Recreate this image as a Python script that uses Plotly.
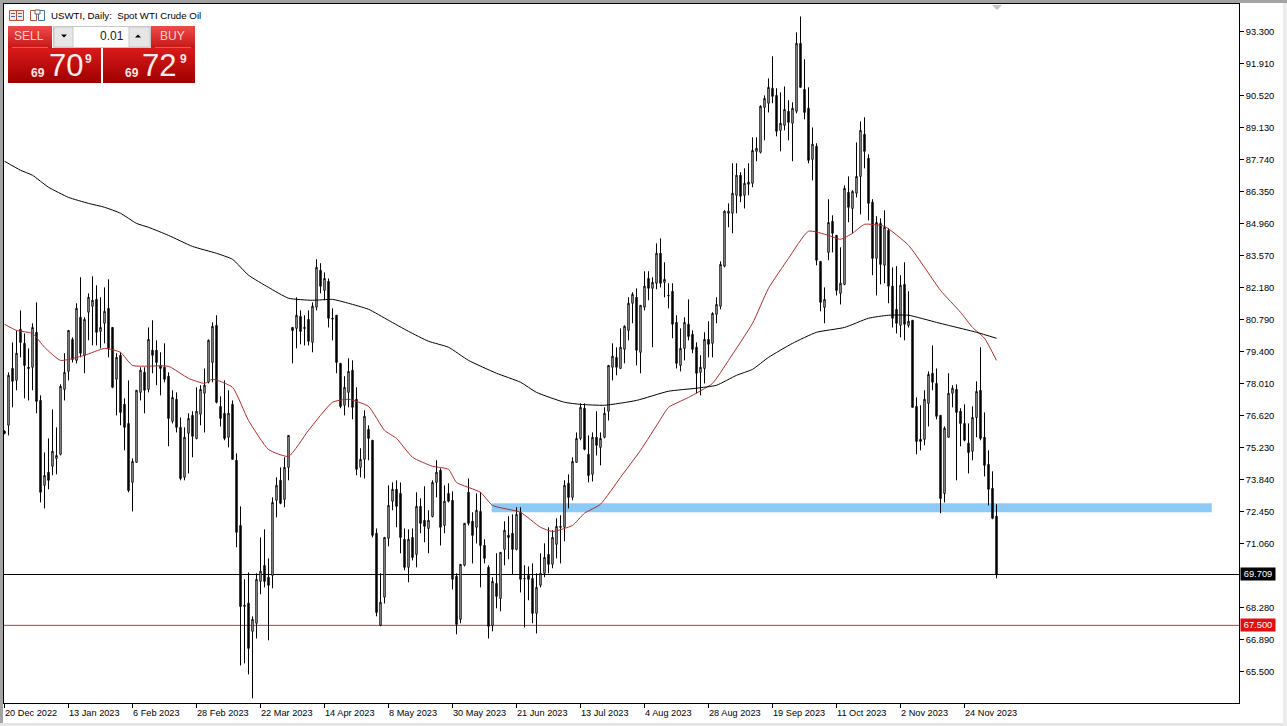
import plotly.graph_objects as go

bars = list(range(249))

highs = [75.97,78.49,79.79,80.31,81.18,80.18,79.53,80.62,81.53,77.49,75.01,75.62,76.88,76.10,77.97,79.32,80.31,80.01,81.49,82.62,80.88,81.92,82.66,82.27,81.75,82.18,82.53,80.44,79.32,79.36,
77.36,78.14,74.75,77.71,78.71,78.71,80.44,80.75,79.88,79.36,79.75,78.49,77.71,77.62,76.53,76.10,76.71,76.80,77.84,77.93,78.66,79.92,80.66,80.97,77.45,78.14,77.71,77.27,74.97,72.67,
69.50,69.80,67.89,69.76,71.32,71.67,70.41,73.06,73.93,74.36,74.80,75.75,80.44,81.75,81.18,80.97,81.18,81.53,83.40,83.23,82.83,82.57,81.27,80.97,78.88,78.32,79.10,79.01,77.84,75.19,
76.84,76.19,75.54,71.71,69.76,71.32,73.58,73.71,73.80,73.71,71.71,71.67,71.71,73.28,73.02,73.54,72.50,73.80,74.67,74.32,73.58,73.67,73.32,69.76,70.15,71.93,73.88,72.41,73.23,73.28,
71.24,70.11,69.59,70.63,70.67,72.02,72.24,72.32,72.63,72.63,70.11,70.06,70.19,69.76,70.63,71.06,71.76,71.63,72.15,72.28,73.80,74.06,74.80,75.88,77.14,77.14,75.75,75.88,76.80,75.88,
76.97,78.79,79.75,79.58,80.40,80.53,81.75,81.97,82.14,81.40,82.88,82.88,82.62,84.09,84.31,83.27,82.36,82.36,80.97,80.40,80.88,81.66,80.31,79.79,79.23,80.23,80.71,81.10,81.75,83.31,
85.53,85.83,87.57,87.57,87.18,87.35,87.57,88.70,88.70,90.09,90.52,91.26,92.22,90.83,90.65,90.91,90.31,90.22,93.26,93.95,92.09,90.87,89.13,88.44,83.31,82.18,86.01,85.31,84.44,83.92,
86.61,87.00,86.40,88.48,89.39,89.57,87.96,86.01,85.27,85.18,85.53,84.75,83.05,83.10,82.71,83.27,82.01,80.75,77.40,77.06,77.71,78.53,79.66,78.66,76.62,76.14,78.45,77.93,77.97,76.93,
77.10,76.27,77.01,78.10,79.58,76.75,75.10,74.19,72.76]

lows = [75.80,75.75,76.97,77.71,79.14,77.36,77.27,77.71,76.71,72.84,72.58,73.41,74.02,74.06,74.88,77.27,78.14,78.92,78.88,79.14,78.45,79.88,79.66,79.66,79.53,79.75,79.14,77.80,76.62,76.19,
75.10,73.28,72.45,74.58,77.27,76.71,77.62,78.45,77.93,77.49,78.06,75.28,76.27,75.88,73.80,73.80,74.10,74.80,75.58,76.19,75.88,78.01,78.06,77.14,76.14,75.54,75.23,74.71,70.89,65.76,
65.85,65.37,64.33,66.93,68.85,69.15,66.85,69.11,72.19,72.76,72.63,73.80,78.88,79.53,79.71,79.66,79.66,79.36,81.18,81.92,81.62,80.44,79.88,78.45,76.93,76.62,76.97,76.45,74.02,73.93,
73.88,74.67,71.32,67.89,67.46,68.45,70.93,72.50,71.76,70.63,69.89,69.37,70.32,70.02,71.50,71.11,70.63,72.19,73.06,70.97,71.50,72.84,69.06,67.11,67.59,70.06,71.84,70.19,71.06,69.15,
70.19,66.93,67.24,68.24,68.11,70.11,70.37,69.72,70.76,68.93,67.41,68.59,67.59,67.15,69.15,69.59,69.76,69.98,70.41,70.19,71.15,72.58,72.93,74.58,75.54,75.10,73.71,73.75,74.88,74.45,
75.62,76.40,78.14,78.36,78.66,78.88,79.88,80.62,78.79,78.45,81.18,81.62,79.58,82.10,82.18,81.75,81.27,79.97,78.66,78.53,79.01,79.88,79.32,77.58,77.49,78.01,79.14,79.14,80.62,81.23,
83.05,84.79,84.53,85.40,85.88,85.61,86.18,86.53,87.66,88.00,88.57,89.78,90.18,88.74,88.09,89.00,88.57,87.66,89.74,90.87,89.48,87.57,86.83,83.14,81.14,80.62,83.36,83.70,81.83,81.44,
82.27,85.01,84.53,86.09,85.35,87.35,85.09,82.71,81.83,82.31,82.36,81.49,80.44,80.18,80.01,79.88,80.44,76.97,74.93,75.10,75.32,76.14,77.71,76.45,72.37,72.84,75.67,76.97,73.80,75.28,
75.49,74.10,74.67,75.67,75.54,73.97,72.71,72.11,69.54]

opens = [75.93,76.19,78.66,78.14,80.36,79.75,78.71,78.71,80.23,77.27,73.58,74.15,74.41,74.75,74.93,77.75,78.53,79.92,79.01,80.88,79.23,81.10,81.36,81.66,80.27,80.62,81.27,80.44,78.19,79.23,
77.10,76.27,73.71,74.58,77.62,78.49,77.75,79.45,79.45,78.79,78.71,78.32,76.36,77.32,76.10,73.93,75.84,76.62,75.62,76.67,77.58,78.06,78.92,80.53,77.01,76.71,75.67,77.10,74.67,71.84,
68.37,68.46,67.24,67.59,69.41,70.10,69.59,69.67,72.93,73.80,72.97,74.36,80.44,80.40,80.92,80.44,80.79,79.79,81.32,82.92,82.05,82.44,80.84,80.97,78.88,77.06,77.62,78.58,77.32,74.36,
74.71,76.01,75.54,71.50,67.50,68.72,71.28,72.89,73.41,73.23,71.24,70.02,71.32,70.58,72.67,72.06,71.71,72.23,73.71,74.23,71.84,73.23,72.93,69.63,67.76,70.11,73.28,72.02,71.76,72.45,
70.97,70.02,67.50,69.32,68.67,70.80,71.41,71.50,70.80,72.41,69.54,69.67,69.54,68.02,69.24,69.76,70.58,70.15,71.02,71.80,71.76,73.67,73.06,74.58,75.62,76.93,74.93,74.06,75.67,75.23,
75.67,76.80,78.71,79.14,78.66,79.49,80.31,81.49,81.75,79.36,81.32,82.57,82.14,82.36,83.66,82.40,81.84,82.01,80.66,78.79,79.53,80.58,80.14,79.58,78.49,78.66,79.92,79.75,81.01,81.36,
83.10,85.40,85.40,86.18,87.05,86.18,86.66,86.70,88.09,88.05,90.00,90.18,90.83,90.52,89.00,89.22,89.83,89.31,89.83,92.78,90.78,89.96,87.74,88.31,83.31,81.31,83.70,85.05,84.44,81.92,
82.31,86.31,85.61,86.27,87.00,88.83,87.79,85.88,83.44,84.96,83.14,84.66,82.23,81.23,80.53,82.31,80.53,80.75,77.01,75.58,75.58,77.14,78.45,78.01,76.62,73.23,75.67,77.58,77.75,76.80,
76.27,75.41,75.06,76.53,77.71,75.67,74.49,73.45,72.24]

closes = [75.84,78.36,78.10,79.32,79.79,78.79,78.66,80.44,77.23,73.28,74.01,73.80,75.06,74.88,77.88,78.49,80.31,79.05,81.27,79.32,80.79,81.75,81.62,80.23,80.44,81.14,79.53,77.84,79.14,76.75,
76.10,73.36,74.62,77.71,78.58,77.71,79.92,79.23,78.92,78.66,78.19,76.49,77.40,76.10,73.88,75.67,76.49,75.71,76.80,77.75,77.93,79.88,80.49,77.19,76.49,75.62,76.71,74.71,71.54,68.32,
68.33,66.50,67.76,69.50,69.85,69.41,69.24,72.84,73.58,72.80,74.36,75.75,80.31,80.97,80.27,80.40,79.84,81.36,83.05,82.23,82.57,80.84,80.81,78.92,77.01,77.84,78.53,76.97,74.28,74.71,
76.58,75.62,71.41,68.06,68.50,71.32,72.71,73.41,72.67,71.32,70.02,71.24,70.45,72.67,71.93,71.80,72.06,73.71,74.15,71.76,72.89,72.89,69.50,67.54,70.15,71.93,71.93,71.41,72.50,70.97,
70.41,67.46,69.41,68.76,70.67,71.63,71.32,70.80,72.32,69.50,69.52,69.50,68.02,69.15,69.76,70.45,70.15,71.32,71.80,71.76,73.58,73.06,74.62,75.62,76.97,75.15,74.01,75.67,75.32,75.62,
76.71,78.79,79.19,78.71,79.58,80.49,81.49,81.88,79.45,81.40,82.23,82.14,82.40,83.66,82.36,82.53,81.82,80.58,78.88,79.53,80.66,80.05,79.49,78.45,78.71,79.92,79.71,81.05,81.44,83.18,
85.49,85.49,86.27,87.05,86.14,86.70,86.75,88.13,88.22,90.05,90.39,90.87,90.48,88.96,89.31,89.91,89.35,89.96,92.78,90.87,89.78,87.70,88.40,83.36,81.53,81.66,85.00,84.53,82.05,82.36,
86.48,85.66,86.35,87.00,89.00,88.09,85.83,83.44,85.00,83.18,84.79,82.23,80.84,80.62,82.27,80.58,80.71,76.97,75.49,75.49,77.32,78.40,78.06,76.58,73.01,76.06,77.58,77.80,76.75,76.27,
75.54,75.01,76.53,77.66,75.62,74.45,73.41,72.15,69.71]

ma_long_bars = [0,4,7,11,16,21,25,29,33,36,41,47,53,57,61,66,71,77,82,86,91,96,101,106,111,116,123,129,133,140,144,150,158,166,173,178,183,187,191,197,203,210,216,221,226,233,236,243,248]
ma_long = [87.66,87.27,87.05,86.53,86.09,85.83,85.66,85.40,84.96,84.79,84.44,83.96,83.66,83.40,82.71,82.18,81.71,81.62,81.66,81.49,81.23,80.75,80.27,79.84,79.58,79.01,78.45,78.06,77.62,77.19,77.10,77.06,77.27,77.67,77.80,77.93,78.36,78.62,79.14,79.75,80.23,80.44,80.84,80.97,80.97,80.66,80.53,80.23,79.97]

ma_short_bars = [0,3,7,10,14,20,25,29,32,41,46,50,52,57,61,66,71,76,82,86,91,95,98,102,107,111,113,119,122,129,134,137,142,145,149,154,159,164,166,171,177,181,187,191,196,201,206,209,212,215,220,226,230,234,239,242,245,248]
ma_short = [80.58,80.31,80.18,79.58,79.01,79.23,79.53,79.36,78.79,78.75,78.23,78.01,78.19,77.84,76.40,75.14,74.84,75.97,77.19,77.32,77.01,75.97,75.62,74.80,74.41,74.28,73.71,73.28,72.71,72.41,71.76,71.58,71.84,72.37,72.76,73.93,75.10,76.45,76.97,77.40,78.01,79.01,80.62,82.14,83.44,84.62,84.44,84.27,84.53,84.92,84.83,84.01,83.05,82.05,81.10,80.44,79.97,79.01]

y_ticks = [93.30,91.91,90.52,89.13,87.74,86.35,84.96,83.57,82.18,80.79,79.40,78.01,76.62,75.23,73.84,72.45,71.06,68.28,66.89,65.50]
date_ticks = [0,16,32,48,64,80,96,112,128,144,160,176,192,208,224,240]
date_labels = ["20 Dec 2022","13 Jan 2023","6 Feb 2023","28 Feb 2023","22 Mar 2023","14 Apr 2023","8 May 2023","30 May 2023","21 Jun 2023","13 Jul 2023","4 Aug 2023","28 Aug 2023","19 Sep 2023","11 Oct 2023","2 Nov 2023","24 Nov 2023"]

last_price = 69.709
level_price = 67.5
zone_low, zone_high = 72.41, 72.80
zone_start, zone_end = 121.8, 301.8

W, H = 1287, 726
L, R, T, B = 4, 1239, 4, 703
FONT = "Liberation Sans"

def px(x):
    return (x - L) / (R - L)

def py(y):
    return 1 - (y - T) / (B - T)

def box(x0, y0, x1, y1, fill, line=None):
    return dict(type="rect", xref="paper", yref="paper", x0=px(x0), x1=px(x1), y0=py(y0), y1=py(y1),
                fillcolor=fill, line=dict(width=1 if line else 0, color=line or fill), layer="above")

def label(x, y, text, size, color="#000000", anchor="center", bold=False):
    t = f"<b>{text}</b>" if bold else text
    return dict(xref="paper", yref="paper", x=px(x), y=py(y), text=t, showarrow=False, xanchor=anchor, yanchor="middle",
                font=dict(family=FONT, size=size, color=color), borderpad=0, borderwidth=0)

def mix(a, b, t):
    return "rgb(" + ",".join(str(round(a[k] + (b[k] - a[k]) * t)) for k in range(3)) + ")"

def gradient(x0, y0, x1, y1, top, bottom):
    out = []
    n = y1 - y0
    for k in range(n):
        out.append(box(x0, y0 + k, x1, y0 + k + 1, mix(top, bottom, k / max(n - 1, 1))))
    return out

fig = go.Figure()
fig.add_trace(go.Candlestick(
    x=bars, open=opens, high=highs, low=lows, close=closes,
    increasing=dict(line=dict(color="#000000", width=1), fillcolor="#ffffff"),
    decreasing=dict(line=dict(color="#000000", width=1), fillcolor="#000000"),
    whiskerwidth=0, showlegend=False, hoverinfo="skip"))
fig.add_trace(go.Scatter(x=ma_short_bars, y=ma_short, mode="lines", line=dict(color="#b22a2a", width=1, shape="spline", smoothing=0.5), showlegend=False, hoverinfo="skip"))
fig.add_trace(go.Scatter(x=ma_long_bars, y=ma_long, mode="lines", line=dict(color="#000000", width=1, shape="spline", smoothing=0.5), showlegend=False, hoverinfo="skip"))

shapes = [
    dict(type="rect", xref="x", yref="y", x0=zone_start, x1=zone_end, y0=zone_low, y1=zone_high, fillcolor="#8ccbf7", line=dict(width=0), layer="below"),
    dict(type="line", xref="paper", yref="y", x0=0, x1=1, y0=last_price, y1=last_price, line=dict(color="#000000", width=1), layer="below"),
    dict(type="line", xref="paper", yref="y", x0=0, x1=1, y0=level_price, y1=level_price, line=dict(color="#c83232", width=1), layer="below"),
    # window chrome
    box(0, 0, W, 3, "#a3a3a3"),
    box(0, 0, 3, 723, "#a3a3a3"),
    box(0, 723, W, H, "#e6e6e6"),
    box(1283, 3, W, H, "#ececec"),
    dict(type="path", xref="paper", yref="paper",
         path=f"M {px(992)} {py(5)} L {px(1002)} {py(5)} L {px(997)} {py(10)} Z",
         fillcolor="#c4c4c4", line=dict(width=0), layer="above"),
    # toolbar icons
    box(9.5, 10.5, 23.5, 20.5, "#fbe6e0", "#b5533c"),
    box(16, 10.5, 17, 20.5, "#b5533c"),
    box(11, 13, 15, 14, "#3f6fb0"), box(11, 16, 15, 17, "#3f6fb0"), box(18, 13, 22, 14, "#3f6fb0"), box(18, 16, 22, 17, "#3f6fb0"),
    box(30.5, 10.5, 36.5, 20.5, "#ffffff", "#b5533c"),
    box(38.5, 10.5, 44.5, 20.5, "#ffffff", "#3f6fb0"),
    box(35, 10, 40, 14, "#ffffff", "#666666"),
    # spinner
    box(53.5, 26.5, 150.5, 47.5, "#ffffff", "#c8c8c8"),
    box(54, 27, 73, 47, "#e6e6e6", "#c8c8c8"),
    box(129, 27, 150, 47, "#e6e6e6", "#c8c8c8"),
    dict(type="path", xref="paper", yref="paper", path=f"M {px(61)} {py(34.5)} L {px(67)} {py(34.5)} L {px(64)} {py(37.5)} Z", fillcolor="#000000", line=dict(width=0), layer="above"),
    dict(type="path", xref="paper", yref="paper", path=f"M {px(135)} {py(37.5)} L {px(141)} {py(37.5)} L {px(138)} {py(34.5)} Z", fillcolor="#000000", line=dict(width=0), layer="above"),
]
shapes += gradient(8, 26, 52, 48, (238, 74, 74), (200, 24, 24))
shapes += gradient(151, 26, 195, 48, (238, 74, 74), (200, 24, 24))
shapes += gradient(8, 48, 101, 83, (216, 26, 26), (160, 0, 0))
shapes += gradient(103, 48, 195, 83, (216, 26, 26), (160, 0, 0))
shapes += [box(12, 47.5, 48, 48, "#f0a0a0"), box(155, 47.5, 191, 48, "#f0a0a0")]

annotations = [
    label(51, 15.5, "USWTI, Daily:\u00a0\u00a0Spot WTI Crude Oil", 9.7, anchor="left"),
    label(28.5, 36.5, "SELL", 12, "#fbd5d5"),
    label(172, 36.5, "BUY", 12, "#fbd5d5"),
    label(124, 36, "0.01", 12, "#222222", anchor="right"),
    label(38, 72.5, "69", 12, "#ffe8e8", bold=True),
    label(66, 66, "70", 31, "#ffecec"),
    label(88, 59.5, "9", 12, "#ffe8e8", bold=True),
    label(132, 72.5, "69", 12, "#ffe8e8", bold=True),
    label(159, 66, "72", 31, "#ffecec"),
    label(183, 59.5, "9", 12, "#ffe8e8", bold=True),
]
for b, t in zip(date_ticks, date_labels):
    annotations.append(dict(xref="x", yref="paper", x=b, y=py(712.5), text=t, showarrow=False, xanchor="left", yanchor="middle",
                            xshift=-2, font=dict(family=FONT, size=9.2, color="#000000")))
annotations.append(dict(xref="paper", yref="y", x=px(1240), y=last_price, text=f"{last_price:.3f}", showarrow=False, xanchor="left", yanchor="middle",
                        bgcolor="#000000", width=34, height=12, borderpad=0, font=dict(family=FONT, size=9.3, color="#ffffff")))
annotations.append(dict(xref="paper", yref="y", x=px(1240), y=level_price, text=f"{level_price:.3f}", showarrow=False, xanchor="left", yanchor="middle",
                        bgcolor="#e01010", width=34, height=12, borderpad=0, font=dict(family=FONT, size=9.3, color="#ffffff")))

fig.update_layout(
    width=W, height=H, margin=dict(l=L, r=W - R, t=T, b=H - B, pad=0),
    paper_bgcolor="#ffffff", plot_bgcolor="#ffffff",
    font=dict(family=FONT, size=10, color="#000000"),
    boxgap=0.5,
    shapes=shapes, annotations=annotations,
    xaxis=dict(range=[-0.125, 308.625], rangeslider=dict(visible=False), showgrid=False, zeroline=False,
               tickmode="array", tickvals=date_ticks, ticktext=[""] * len(date_ticks), ticks="outside", ticklen=4, tickcolor="#000000", tickwidth=1,
               showline=True, linecolor="#000000", linewidth=1, mirror=True),
    yaxis=dict(side="right", range=[64.127, 94.49], showgrid=False, zeroline=False,
               tickmode="array", tickvals=y_ticks, ticktext=[f"{v:.3f}" for v in y_ticks], ticks="outside", ticklen=4, tickcolor="#000000", tickwidth=1,
               showline=True, linecolor="#000000", linewidth=1, mirror=True, tickfont=dict(family=FONT, size=9.3)),
)

fig.write_html("out.html", post_script="document.body.style.margin='0';document.body.style.overflow='hidden';",
               config=dict(displayModeBar=False))
